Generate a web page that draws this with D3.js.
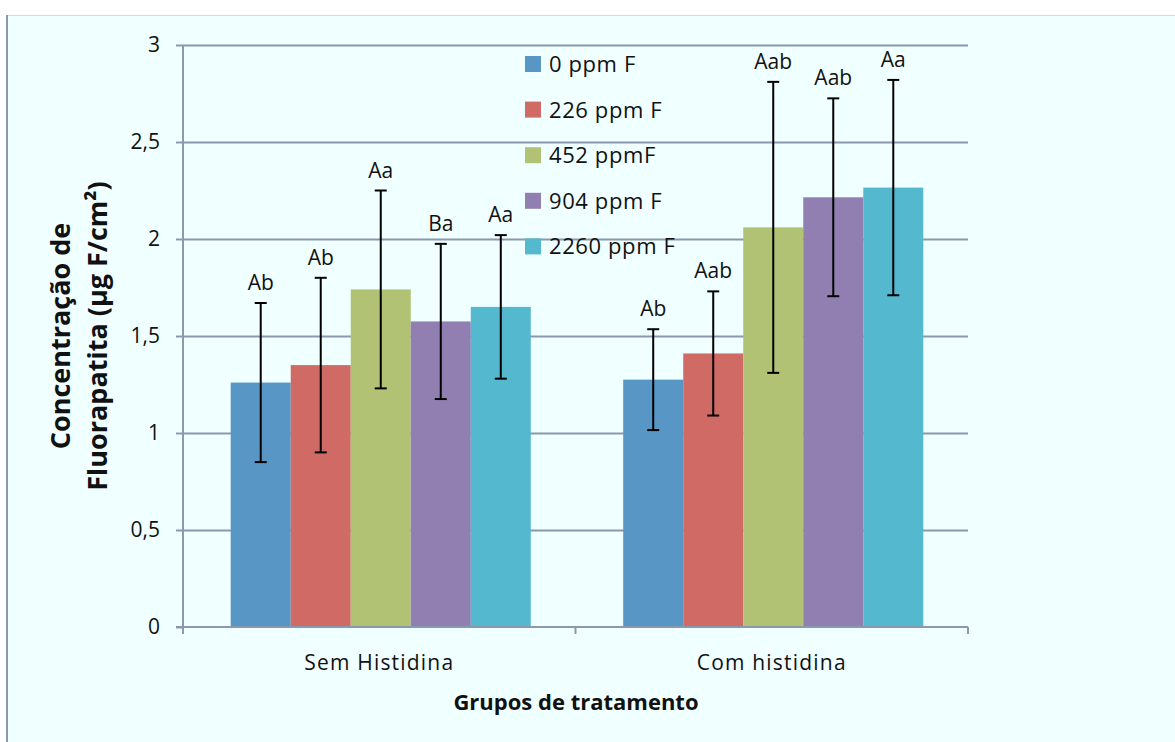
<!DOCTYPE html>
<html>
<head>
<meta charset="utf-8">
<script src="https://cdn.jsdelivr.net/npm/d3@7"></script>
<style>
  html, body { margin: 0; padding: 0; background: #ffffff; }
  svg { display: block; }
  text { font-family: "Open Sans", "Noto Sans", sans-serif; fill: #111; }
</style>
</head>
<body>
<svg id="chart" width="1175" height="742"></svg>
<script>
// ---- data ----
const categories = ["Sem Histidina", "Com histidina"];
const series = ["0 ppm F", "226 ppm F", "452 ppmF", "904 ppm F", "2260 ppm F"];
const colors = ["#5896c6", "#d06a64", "#b1c274", "#917fb1", "#54b8ce"];
const semHistidina = [1.26, 1.35, 1.74, 1.575, 1.65];
const comHistidina = [1.275, 1.41, 2.06, 2.215, 2.265];
const semErr = [0.41, 0.45, 0.51, 0.40, 0.37];
const comErr = [0.26, 0.32, 0.75, 0.51, 0.555];
const semLabels = ["Ab", "Ab", "Aa", "Ba", "Aa"];
const comLabels = ["Ab", "Aab", "Aab", "Aab", "Aa"];
const yTicks = [0, 0.5, 1, 1.5, 2, 2.5, 3];
const yTitle = ["Concentração de", "Fluorapatita (µg F/cm²)"];
const xTitle = "Grupos de tratamento";

const groups = [
  { cat: categories[0], values: semHistidina, err: semErr, labels: semLabels },
  { cat: categories[1], values: comHistidina, err: comErr, labels: comLabels }
];

// ---- layout ----
const svg = d3.select("#chart");
const W = 1175, H = 742;
const plot = { left: 183, right: 968, top: 45, bottom: 627 };
const axisColor = "#8a98b0";

// background
svg.append("rect").attr("x", 0).attr("y", 0).attr("width", W).attr("height", H).attr("fill", "#ffffff");
svg.append("rect").attr("x", 8).attr("y", 16).attr("width", W - 8).attr("height", H - 16).attr("fill", "#f0ffff");
svg.append("line").attr("x1", 8).attr("x2", W).attr("y1", 15.5).attr("y2", 15.5)
  .attr("stroke", "#d3dae3").attr("stroke-width", 1);
svg.append("line").attr("x1", 7).attr("x2", 7).attr("y1", 15).attr("y2", H)
  .attr("stroke", "#8a98b0").attr("stroke-width", 2);

// scales
const y = d3.scaleLinear().domain([0, 3]).range([plot.bottom, plot.top]);
const x0 = d3.scaleBand().domain(categories).range([plot.left, plot.right]).paddingInner(0).paddingOuter(0);
const x1 = d3.scaleBand().domain(series).range([0, x0.bandwidth()]).paddingInner(0).paddingOuter(0.77);

const fmt = d => String(d).replace(".", ",");

// gridlines
svg.append("g")
  .attr("transform", `translate(${plot.left},0)`)
  .call(d3.axisLeft(y).tickValues(yTicks.filter(d => d > 0)).tickSize(-(plot.right - plot.left)).tickFormat(""))
  .call(g => g.select(".domain").remove())
  .call(g => g.selectAll("line").attr("stroke", axisColor).attr("stroke-width", 2));

// y axis
svg.append("g")
  .attr("transform", `translate(${plot.left},0)`)
  .call(d3.axisLeft(y).tickValues(yTicks).tickSize(7).tickPadding(16).tickFormat(fmt))
  .call(g => g.select(".domain").attr("stroke", axisColor).attr("stroke-width", 2).attr("d", `M0,${plot.top}V${plot.bottom}`))
  .call(g => g.selectAll("line").attr("stroke", axisColor).attr("stroke-width", 2))
  .call(g => g.selectAll("text").attr("font-size", 21).attr("font-family", "Open Sans, sans-serif").attr("fill", "#111"));

// bars
const gGroups = svg.append("g").selectAll("g").data(groups).join("g")
  .attr("transform", d => `translate(${x0(d.cat) + 1.5},0)`);

gGroups.selectAll("rect").data(d => d.values.map((v, i) => ({ v, i }))).join("rect")
  .attr("x", d => x1(series[d.i]))
  .attr("width", x1.bandwidth())
  .attr("y", d => y(d.v))
  .attr("height", d => y(0) - y(d.v))
  .attr("fill", d => colors[d.i]);

// x axis
const xAxisG = svg.append("g");
xAxisG.append("line").attr("x1", plot.left - 7).attr("x2", plot.right).attr("y1", y(0)).attr("y2", y(0))
  .attr("stroke", axisColor).attr("stroke-width", 2);
const bounds = [x0(categories[0]), ...categories.map(c => x0(c) + x0.bandwidth())];
xAxisG.selectAll("line.tick").data(bounds).join("line").attr("class", "tick")
  .attr("x1", d => d).attr("x2", d => d).attr("y1", y(0)).attr("y2", y(0) + 7)
  .attr("stroke", axisColor).attr("stroke-width", 2);
xAxisG.selectAll("text").data(categories).join("text")
  .attr("x", d => x0(d) + x0.bandwidth() / 2).attr("y", 670)
  .attr("text-anchor", "middle").attr("font-size", 21).attr("letter-spacing", "1.2px")
  .text(d => d);

// error bars
const eb = gGroups.selectAll("g.err").data(d => d.values.map((v, i) => ({ v, e: d.err[i], i, lab: d.labels[i] }))).join("g").attr("class", "err");
const cx = d => x1(series[d.i]) + x1.bandwidth() / 2;
eb.append("line").attr("x1", cx).attr("x2", cx).attr("y1", d => y(d.v + d.e)).attr("y2", d => y(d.v - d.e))
  .attr("stroke", "#000").attr("stroke-width", 2);
eb.append("line").attr("x1", d => cx(d) - 6).attr("x2", d => cx(d) + 6).attr("y1", d => y(d.v + d.e)).attr("y2", d => y(d.v + d.e))
  .attr("stroke", "#000").attr("stroke-width", 2);
eb.append("line").attr("x1", d => cx(d) - 6).attr("x2", d => cx(d) + 6).attr("y1", d => y(d.v - d.e)).attr("y2", d => y(d.v - d.e))
  .attr("stroke", "#000").attr("stroke-width", 2);
eb.append("text").attr("x", cx).attr("y", d => y(d.v + d.e) - 13)
  .attr("text-anchor", "middle").attr("font-size", 21)
  .text(d => d.lab);

// legend
const legend = svg.append("g").attr("transform", "translate(525,64)");
const li = legend.selectAll("g").data(series).join("g").attr("transform", (d, i) => `translate(0,${i * 45.6})`);
li.append("rect").attr("x", 0).attr("y", -8).attr("width", 16).attr("height", 16).attr("fill", (d, i) => colors[i]);
li.append("text").attr("x", 24).attr("y", 8).attr("font-size", 22).attr("letter-spacing", "0.6px").text(d => d);

// axis titles
const yt = svg.append("text").attr("transform", "translate(80,336) rotate(-90)")
  .attr("text-anchor", "middle").attr("font-weight", "bold").attr("font-size", 27);
yt.selectAll("tspan").data(yTitle).join("tspan")
  .attr("x", 0).attr("dy", (d, i) => i === 0 ? -10 : 37).text(d => d);

svg.append("text").attr("x", 576).attr("y", 710).attr("text-anchor", "middle")
  .attr("font-weight", "bold").attr("font-size", 22).text(xTitle);
</script>
</body>
</html>
